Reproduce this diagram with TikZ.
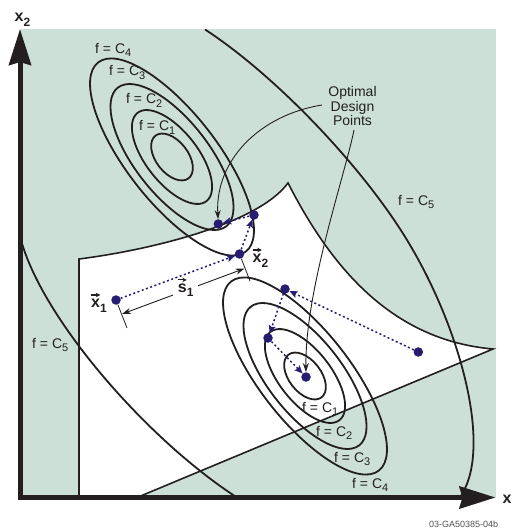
\documentclass[tikz,border=0pt]{standalone}
\usepackage{fontspec}
\setmainfont{Liberation Sans}
\usetikzlibrary{arrows.meta}
\definecolor{bggreen}{RGB}{204,224,216}
\definecolor{navy}{RGB}{38,28,112}
\definecolor{ink}{RGB}{35,31,32}
\definecolor{foot}{RGB}{80,80,80}
\newcommand\lsub[1]{\raisebox{-3.3pt}{\fontsize{11}{11}\selectfont #1}}
\newcommand\vlab[2]{\textbf{#1\raisebox{-4.5pt}{\fontsize{12}{12}\selectfont #2}}}
\tikzset{
  contour/.style={draw=ink, line width=1.8pt},
  bound/.style={draw=ink, line width=1.6pt},
  lab/.style={text=ink, font=\fontsize{14}{14}\selectfont, inner sep=0pt, anchor=base west},
  vl/.style={text=ink, font=\fontsize{16}{16}\selectfont, inner sep=0pt, anchor=base west},
  dot/.style={circle, fill=navy, inner sep=0pt, minimum size=9.5pt},
  darrow/.style={draw=navy, line width=1.5pt, dash pattern=on 2pt off 2.5pt, -{Stealth[length=8pt,width=7pt,inset=1.5pt]}},
  oarrow/.style={draw=ink, line width=0.9pt, -{Stealth[length=9pt,width=6pt]}},
  dimline/.style={draw=ink, line width=0.9pt, {Stealth[length=9pt,width=6pt]}-{Stealth[length=9pt,width=6pt]}},
  tickline/.style={draw=ink, line width=0.8pt},
  varrow/.style={draw=ink, line width=1.1pt, -{Stealth[length=4.5pt,width=4.5pt]}},
  axisline/.style={draw=ink, line width=5pt, line join=miter},
}
\begin{document}
\begin{tikzpicture}[x=1pt,y=-1pt]
\useasboundingbox (0,0) rectangle (513,529);
% background
\fill[bggreen] (20,29.5) rectangle (495.5,497.5);
% feasible region
\path[fill=white, bound] (79,497.5) -- (79,259)
  .. controls (150,250) and (258,224) .. (288,183)
  .. controls (330,265) and (390,340) .. (493,349) -- (137,497.5);
% contours
\begin{scope}
\clip (20,29.5) rectangle (495.5,497.5);
\foreach \a/\b in {27/16, 56/26, 88/37, 120/45} {
  \draw[contour, rotate around={-52:(172,157)}] (172,157) ellipse [x radius=\a*1pt, y radius=\b*1pt];
  \draw[contour, rotate around={-52:(305,376)}] (305,376) ellipse [x radius=\a*1pt, y radius=\b*1pt];
}
\draw[contour] (205,29.5) .. controls (275,75) and (362,166) .. (407,240)
  .. controls (460,327) and (492,445) .. (462,494) -- (458,502);
\draw[contour] (18,229) -- (21,240) .. controls (43,320) and (148,440) .. (237,497.5) -- (245,503);
\end{scope}
% axes
\coordinate (ytip) at (20,29);
\coordinate (orig) at (20,497.5);
\coordinate (xtip) at (495.5,497.5);
\draw[axisline, {Stealth[length=36pt,width=22pt,inset=3pt]}-{Stealth[length=36pt,width=22pt,inset=3pt]}] (ytip) -- (orig) -- (xtip);
\node[vl] (ax2) at (14.5,21.7) {\vlab{x}{2}};
\node[vl] (ax1) at (502.5,503.3) {\textbf{x}};
% contour labels
\node[lab] (u4) at (95,53.5) {f = C\lsub{4}};
\node[lab] (u3) at (109,76) {f = C\lsub{3}};
\node[lab] (u2) at (126,104) {f = C\lsub{2}};
\node[lab] (u1) at (139,131) {f = C\lsub{1}};
\node[lab] (l1) at (302,412) {f = C\lsub{1}};
\node[lab] (l2) at (316,436) {f = C\lsub{2}};
\node[lab] (l3) at (334,462) {f = C\lsub{3}};
\node[lab] (l4) at (352,488) {f = C\lsub{4}};
\node[lab] (r5) at (398,205) {f = C\lsub{5}};
\node[lab] (le5) at (32,348) {f = C\lsub{5}};
% design points
\node[dot] (x1) at (116,300) {};
\node[dot] (x2) at (239.5,254) {};
\node[dot] (p3) at (254,215) {};
\node[dot] (uopt) at (218.3,224) {};
\node[dot] (q0) at (418.3,352) {};
\node[dot] (q1) at (285,289) {};
\node[dot] (q2) at (268,338) {};
\node[dot] (lopt) at (306,377) {};
\draw[darrow] (x1) -- (x2);
\draw[darrow] (x2) -- (p3);
\draw[darrow] (p3) -- (uopt);
\draw[darrow] (q0) -- (q1);
\draw[darrow] (q1) -- (q2);
\draw[darrow] (q2) -- (lopt);
% step dimension
\coordinate (t1) at (127,328);
\coordinate (t2) at (250,281);
\draw[tickline] (x1) -- (t1);
\draw[tickline] (x2) -- (t2);
\coordinate (d1) at (122,314);
\coordinate (d2) at (244.5,268.5);
\draw[dimline] (d1) -- node[pos=0.52, fill=white, inner sep=5pt, text=ink, font=\fontsize{16}{16}\selectfont] (s1) {\vlab{s}{1}} (d2);
\draw[varrow] ([xshift=5.3pt,yshift=12.5pt]s1.base west) -- ++(9,0);
\node[vl] (xl1) at (91,307.5) {\vlab{x}{1}};
\draw[varrow] ([xshift=0.3pt,yshift=12.5pt]xl1.base west) -- ++(9,0);
\node[vl] (xl2) at (252.5,262.5) {\vlab{x}{2}};
\draw[varrow] ([xshift=0.3pt,yshift=12.5pt]xl2.base west) -- ++(9,0);
% optimal design points callout
\node[text=ink, font=\fontsize{14}{13}\selectfont, align=center, inner sep=0pt] (odp) at (352.5,106) {Optimal\\Design\\Points};
\coordinate (o1) at (322,105);
\coordinate (o2) at (354,130);
\draw[oarrow] (o1) .. controls (260,115) and (215,160) .. (uopt);
\draw[oarrow] (o2) .. controls (345,175) and (305,290) .. (lopt);
% footer
\node[text=foot, font=\fontsize{9}{9}\selectfont, inner sep=0pt, anchor=base west] (ft) at (429,527.5) {03-GA50385-04b};
\end{tikzpicture}
\end{document}
